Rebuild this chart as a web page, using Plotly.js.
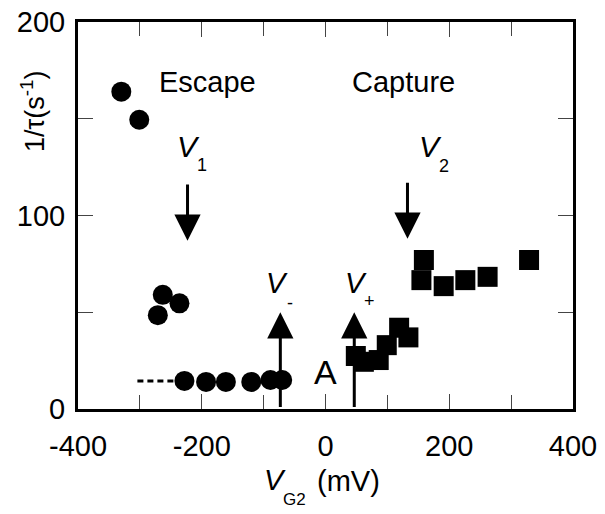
<!DOCTYPE html>
<html>
<head>
<meta charset="utf-8">
<script src="https://cdn.plot.ly/plotly-3.0.1.min.js"></script>
<style>
html,body{margin:0;padding:0;background:#fff;}
#chart{width:605px;height:514px;}
</style>
</head>
<body>
<div id="chart"></div>
<script>
// Escape data (circles)
var escapeX = [-330, -301, -263, -271, -236, -228, -193, -161, -120, -89, -70];
var escapeY = [164, 149.5, 59, 48.5, 54.6, 14.5, 14, 14, 14, 15, 15];
// Capture data (squares)
var captureX = [49, 62, 86, 99, 119, 134, 159, 155, 191, 226, 262, 329];
var captureY = [27.4, 24.4, 25.3, 33, 42, 37, 77, 66.6, 63.5, 66.6, 68.3, 77];
// Dashed extrapolation line
var dashX = [-304, -235];
var dashY = [14.5, 14.5];
// Arrows: x position, tail y, tip y
var arrowX    = [-223, 132.5, -73, 46.5];
var arrowTail = [117, 118, 0, 0];
var arrowTip  = [87, 88, 50, 50];
// Tick values
var xTicks = [-400, -200, 0, 200, 400];
var yTicks = [0, 100, 200];

var FONT = 'Liberation Sans, Arial, sans-serif';

var traces = [
  {x: dashX, y: dashY, mode: 'lines', line: {color: '#000', width: 3, dash: '6px,4px'}, hoverinfo: 'skip'},
  {x: escapeX, y: escapeY, mode: 'markers', marker: {symbol: 'circle', size: 20, color: '#000'}},
  {x: captureX, y: captureY, mode: 'markers', marker: {symbol: 'square', size: 20, color: '#000'}}
];

var annotations = [];
for (var i = 0; i < arrowX.length; i++) {
  annotations.push({
    x: arrowX[i], y: arrowTip[i], xref: 'x', yref: 'y',
    ax: arrowX[i], ay: arrowTail[i], axref: 'x', ayref: 'y',
    text: ' ', font: {size: 1}, showarrow: true, arrowhead: 2, arrowsize: 1.75, arrowwidth: 3, arrowcolor: '#000',
    standoff: 0, startstandoff: 0
  });
}
function lab(text, x, y, size, ref, extra) {
  var a = {text: text, x: x, y: y, xref: ref ? 'paper' : 'x', yref: ref ? 'paper' : 'y',
    showarrow: false, xanchor: 'center', yanchor: 'middle',
    font: {family: FONT, size: size, color: '#000'}};
  if (extra) for (var k in extra) a[k] = extra[k];
  annotations.push(a);
}
lab('Escape', -191.5, 169, 29);
lab('Capture', 125.3, 169, 29);
lab('<i>V</i>', -221.7, 135.9, 30);
lab('1', -200.4, 126.1, 18);
lab('<i>V</i>', 168.9, 135.9, 30);
lab('2', 190.7, 125.6, 18);
lab('<i>V</i>', -78.4, 65.3, 29);
lab('-', -57.4, 54.6, 18);
lab('<i>V</i>', 49.3, 65.3, 29);
lab('+', 70.8, 56, 18);
lab('A', -0.8, 18.9, 34);
// axis titles
lab('<i>V</i>', 0.398, -0.1835, 29, true);
lab('G2', 0.438, -0.235, 17, true);
lab('(mV)', 0.546, -0.187, 29, true);
lab('1/τ(s<sup>-1</sup>)', -0.091, 0.77, 27, true, {textangle: -90});

var axisCommon = {
  showline: true, linewidth: 3, linecolor: '#000', mirror: 'ticks',
  ticks: 'inside', ticklen: 15, tickwidth: 1.2, tickcolor: '#444',
  showgrid: false, zeroline: false,
  tickfont: {family: FONT, size: 29, color: '#000'}
};

var layout = {
  width: 605, height: 514,
  margin: {l: 78, r: 32, t: 22, b: 105},
  paper_bgcolor: '#fff', plot_bgcolor: '#fff',
  showlegend: false,
  xaxis: Object.assign({}, axisCommon, {
    range: [-400, 400], tickmode: 'array', tickvals: xTicks, ticktext: xTicks.map(String),
    ticklabelstandoff: 9,
    minor: {dtick: 100, tick0: 0, ticks: 'inside', ticklen: 14, tickwidth: 1.2, tickcolor: '#444'}
  }),
  yaxis: Object.assign({}, axisCommon, {
    range: [0, 200], tickmode: 'array', tickvals: yTicks, ticktext: yTicks.map(String),
    ticklabelstandoff: 4,
    minor: {dtick: 50, tick0: 0, ticks: 'inside', ticklen: 15, tickwidth: 1.2, tickcolor: '#444'}
  }),
  annotations: annotations
};

Plotly.newPlot('chart', traces, layout, {displayModeBar: false, staticPlot: true});
</script>
</body>
</html>
